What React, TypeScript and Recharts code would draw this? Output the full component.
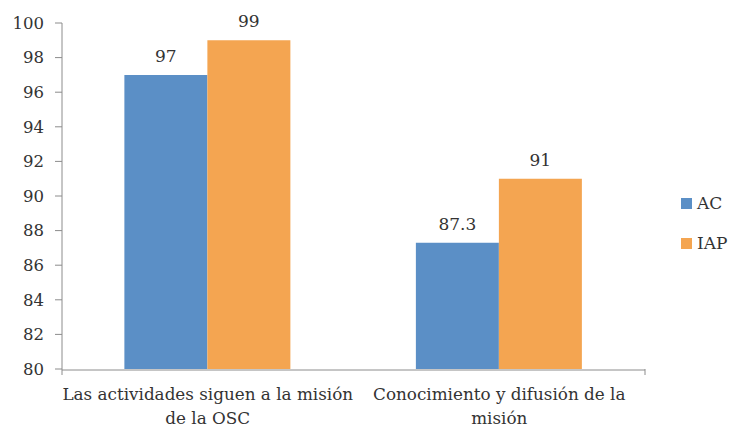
import React from 'react';
import { BarChart, Bar, XAxis, YAxis, LabelList, Legend } from 'recharts';

const categories = ['Las actividades siguen a la misión\nde la OSC', 'Conocimiento y difusión de la\nmisión'];
const acValues = [97, 87.3];
const iapValues = [99, 91];
const yTicks = [80, 82, 84, 86, 88, 90, 92, 94, 96, 98, 100];
const boundaryTicks = [0, 1, 2];

const data = categories.map((c, i) => ({ name: c, AC: acValues[i], IAP: iapValues[i] }));

const FONT = '"DejaVu Serif", serif';
const TEXT = '#333333';
const AC_COLOR = '#5b8fc6';
const IAP_COLOR = '#f4a551';
const AXIS = '#8c8c8c';

const CatTick = (props: any) => {
  const { x, y, payload } = props;
  const lines = String(payload.value).split('\n');
  return (
    <g>
      {lines.map((l: string, i: number) => (
        <text key={i} x={x} y={y + 22 + i * 24} textAnchor="middle" fontFamily={FONT} fontSize={16.8} fill={TEXT}>
          {l}
        </text>
      ))}
    </g>
  );
};

const LegendContent = () => (
  <div style={{ fontFamily: FONT, fontSize: 17, color: TEXT }}>
    {[['AC', AC_COLOR], ['IAP', IAP_COLOR]].map(([n, c], i) => (
      <div key={n} style={{ display: 'flex', alignItems: 'center', height: 20, marginBottom: i === 0 ? 20 : 0 }}>
        <span style={{ display: 'inline-block', width: 11, height: 11, background: c, marginRight: 5 }} />
        <span>{n}</span>
      </div>
    ))}
  </div>
);

export default function App() {
  return (
    <div style={{ position: 'absolute', left: 0, top: 0, width: 730, height: 430, background: '#fff' }}>
      <BarChart width={730} height={430} data={data} margin={{ top: 23, right: 35, left: 0, bottom: 0 }} barCategoryGap="21.4%" barGap={0}>
        <YAxis
          domain={[80, 100]}
          ticks={yTicks}
          width={62}
          tickSize={7}
          tickMargin={11}
          axisLine={{ stroke: AXIS }}
          tickLine={{ stroke: AXIS }}
          tick={{ fontFamily: FONT, fontSize: 16.5, fill: TEXT }}
          allowDataOverflow
        />
        <XAxis
          xAxisId="bounds"
          type="number"
          domain={[0, 2]}
          ticks={boundaryTicks}
          height={1}
          axisLine={false}
          tickLine={{ stroke: AXIS }}
          tickSize={6}
          tickFormatter={() => ''}
        />
        <XAxis
          xAxisId="cat"
          dataKey="name"
          height={60}
          axisLine={{ stroke: AXIS }}
          tickLine={false}
          tick={<CatTick />}
          interval={0}
        />
        <Legend
          content={<LegendContent />}
          layout="vertical"
          align="right"
          verticalAlign="middle"
          wrapperStyle={{ left: 681, top: 193, width: 50, height: 60 }}
        />
        <Bar xAxisId="cat" dataKey="AC" fill={AC_COLOR} isAnimationActive={false}>
          <LabelList dataKey="AC" position="top" offset={13} style={{ fontFamily: FONT, fontSize: 17, fill: TEXT }} />
        </Bar>
        <Bar xAxisId="cat" dataKey="IAP" fill={IAP_COLOR} isAnimationActive={false}>
          <LabelList dataKey="IAP" position="top" offset={13} style={{ fontFamily: FONT, fontSize: 17, fill: TEXT }} />
        </Bar>
      </BarChart>
    </div>
  );
}
